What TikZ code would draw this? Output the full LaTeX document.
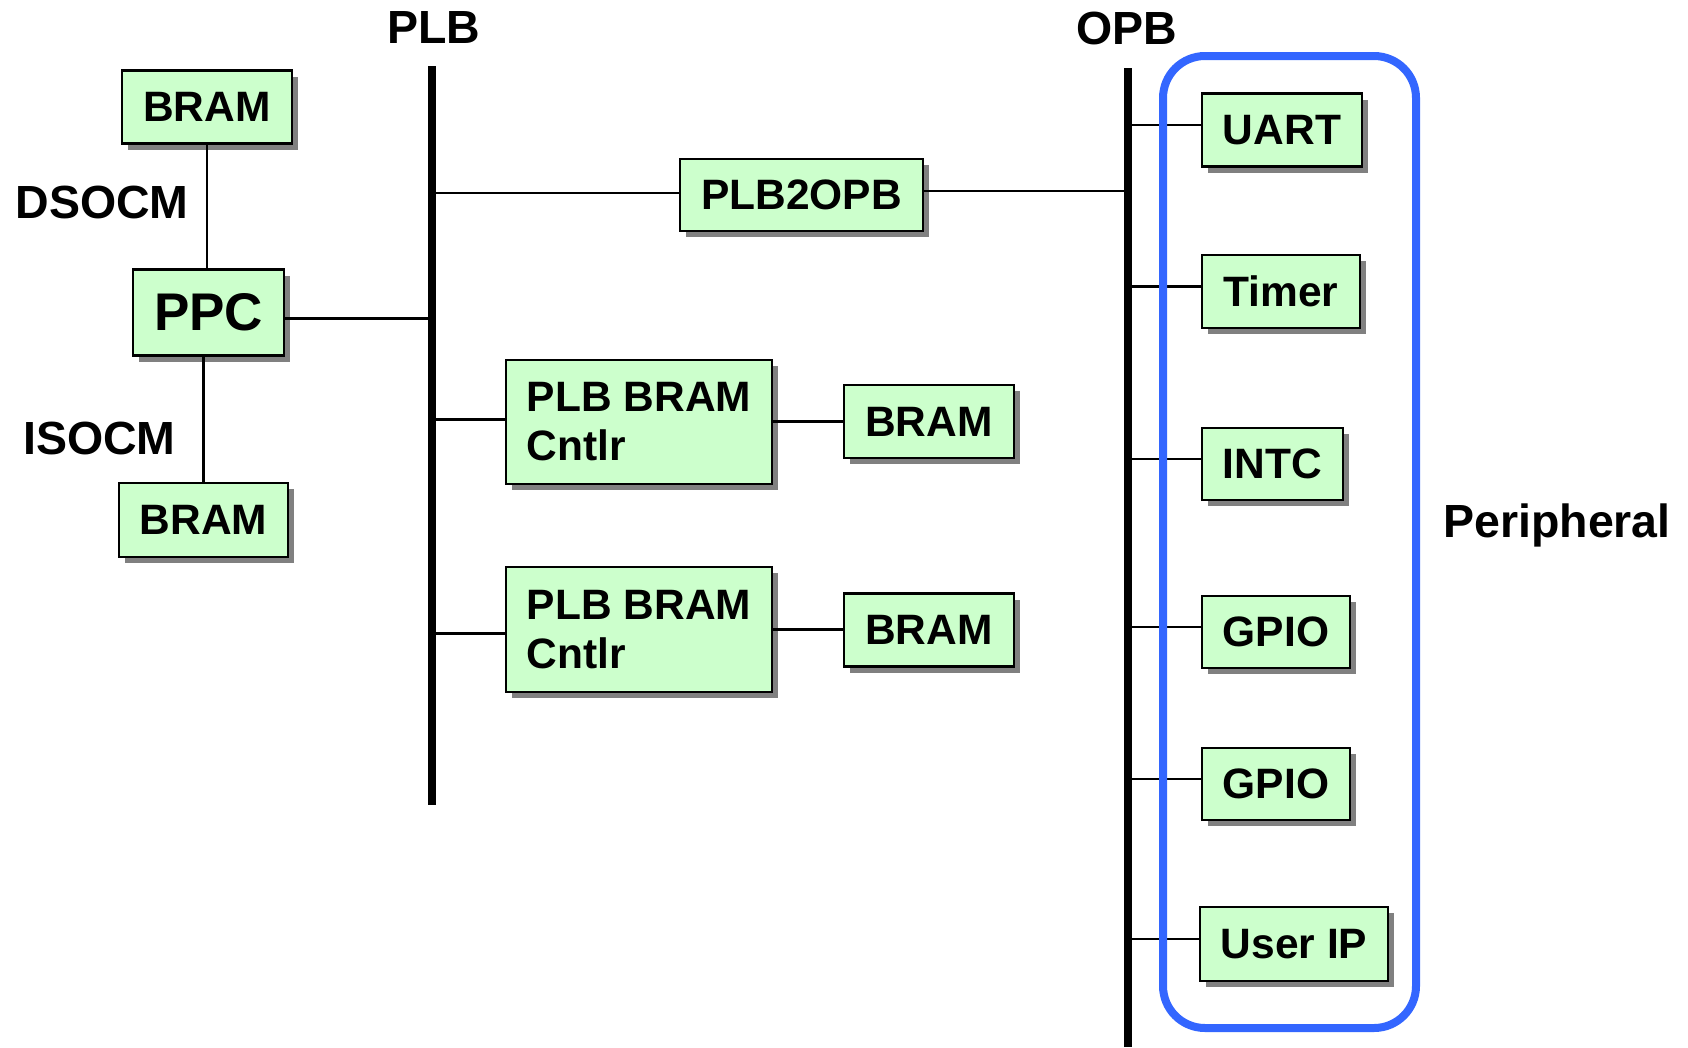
\documentclass[tikz,border=0pt]{standalone}
\usepackage{fontspec}
\setmainfont{Liberation Sans}
\usetikzlibrary{shadows}

\definecolor{boxgreen}{HTML}{CCFFCC}
\definecolor{shadowgray}{HTML}{808080}
\definecolor{groupblue}{HTML}{3366FF}

\tikzset{
  blk/.style={draw=black, line width=2.2pt, fill=boxgreen, inner sep=0pt,
    font=\fontsize{42.5}{49}\selectfont\bfseries,
    drop shadow={shadow xshift=6pt, shadow yshift=-6pt, fill=shadowgray, opacity=1}},
  sz/.style 2 args={minimum width=#1pt, minimum height=#2pt},
  conn/.style={line width=2.4pt},
  busline/.style={line width=8pt},
  lbl/.style={font=\fontsize{46.5}{54}\selectfont\bfseries, anchor=base, inner sep=0pt},
  group/.style={draw=groupblue, line width=8pt, rounded corners=42pt, inner sep=0pt},
}

\begin{document}
\begin{tikzpicture}[x=1pt, y=-1pt]
\useasboundingbox (0,0) rectangle (1688,1047);

% bus labels and side labels
\node[lbl] (plblbl) at (434,43) {PLB};
\node[lbl] (opblbl) at (1126.5,44) {OPB};
\node[lbl] (dsocm) at (102,218) {DSOCM};
\node[lbl] (isocm) at (99.5,454) {ISOCM};
\node[lbl] (periphlbl) at (1557,537) {Peripheral};

% bus end points
\coordinate (plbtop) at (432,66);
\coordinate (plbbot) at (432,805);
\coordinate (opbtop) at (1128,68);
\coordinate (opbbot) at (1128,1047);

% processor and on-chip memories
\node[blk, sz={170}{73}] (bramA) at (207,107) {BRAM};
\node[blk, sz={151}{86}, font=\fontsize{53}{60}\selectfont\bfseries] (ppc) at (208.5,312.5) {PPC};
\node[blk, sz={169}{74}] (bramB) at (203.5,520) {BRAM};

% PLB side
\node[blk, sz={243}{72}] (p2o) at (801.5,195) {PLB2OPB};
\node[blk, sz={266}{124}, align=left] (ctl1) at (639,421.6) {PLB BRAM\\Cntlr};
\node[blk, sz={170}{73}] (bramC) at (929,421.5) {BRAM};
\node[blk, sz={266}{125}, align=left] (ctl2) at (639,629.5) {PLB BRAM\\Cntlr};
\node[blk, sz={170}{73}] (bramD) at (929,630) {BRAM};

% OPB peripherals
\node[blk, sz={160}{73}] (uart) at (1282,130) {UART};
\node[blk, sz={158}{73}] (timer) at (1281,291.5) {Timer};
\node[blk, sz={141}{72}] (intc) at (1272.5,464) {INTC};
\node[blk, sz={148}{72}] (gpioA) at (1276,632) {GPIO};
\node[blk, sz={148}{72}] (gpioB) at (1276,784) {GPIO};
\node[blk, sz={188}{74}] (userip) at (1294,944) {User IP};

% buses
\draw[busline] (plbtop) -- (plbbot);
\draw[busline] (opbtop) -- (opbbot);

% connectors
\draw[conn] (bramA.south) -- (bramA.south |- ppc.north);
\draw[conn] (bramB.north) -- (bramB.north |- ppc.south);
\draw[conn] ([yshift=-6pt]ppc.east) -- ([yshift=-6pt]ppc.east -| plbtop);
\draw[conn] ([yshift=2pt]p2o.west) -- ([yshift=2pt]p2o.west -| plbtop);
\draw[conn] ([yshift=4pt]p2o.east) -- ([yshift=4pt]p2o.east -| opbtop);
\draw[conn] ([yshift=2pt]ctl1.west) -- ([yshift=2pt]ctl1.west -| plbtop);
\draw[conn] (ctl1.east) -- (ctl1.east -| bramC.west);
\draw[conn] ([yshift=-4pt]ctl2.west) -- ([yshift=-4pt]ctl2.west -| plbtop);
\draw[conn] (ctl2.east) -- (ctl2.east -| bramD.west);
\foreach \n in {uart,timer,intc,gpioA,gpioB,userip}
  \draw[conn] ([yshift=5pt]\n.west) -- ([yshift=5pt]\n.west -| opbtop);

% peripheral group frame
\node[group, minimum width=253pt, minimum height=972pt] (periph) at (1289.5,542) {};
\end{tikzpicture}
\end{document}
